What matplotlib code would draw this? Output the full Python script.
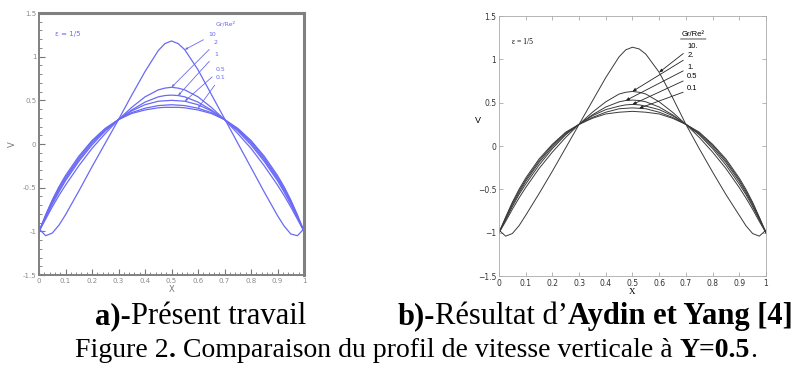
import matplotlib
matplotlib.use('Agg')
import matplotlib.pyplot as plt
from matplotlib.ticker import MultipleLocator
from matplotlib.transforms import IdentityTransform

# positions X le long de Y=0.5
x_pos = [0, 0.025, 0.05, 0.075, 0.1, 0.15, 0.2, 0.25, 0.3, 0.35, 0.4, 0.45, 0.475,
         0.5, 0.525, 0.55, 0.6, 0.65, 0.7, 0.75, 0.8, 0.85, 0.9, 0.925, 0.95, 0.975, 1]

# a) present travail
a_10 = [-0.97, -1.05, -1.02, -0.93, -0.81, -0.54, -0.26, 0.01, 0.28, 0.56, 0.83, 1.07, 1.15,
        1.18, 1.15, 1.08, 0.85, 0.57, 0.29, 0.01, -0.27, -0.55, -0.82, -0.94, -1.03, -1.05, -0.97]
a_2 = [-1.0, -0.86, -0.72, -0.59, -0.47, -0.25, -0.05, 0.12, 0.28, 0.42, 0.54, 0.62, 0.64,
       0.65, 0.64, 0.62, 0.54, 0.42, 0.28, 0.12, -0.05, -0.25, -0.47, -0.59, -0.72, -0.86, -1.0]
a_1 = [-1.0, -0.84, -0.69, -0.55, -0.42, -0.20, -0.01, 0.15, 0.28, 0.39, 0.48, 0.54, 0.555,
       0.56, 0.555, 0.54, 0.48, 0.39, 0.28, 0.15, -0.01, -0.20, -0.42, -0.55, -0.69, -0.84, -1.0]
a_05 = [-1.0, -0.83, -0.67, -0.53, -0.40, -0.18, 0.01, 0.16, 0.28, 0.38, 0.45, 0.49, 0.495,
        0.50, 0.495, 0.49, 0.45, 0.38, 0.28, 0.16, 0.01, -0.18, -0.40, -0.53, -0.67, -0.83, -1.0]
a_01 = [-1.0, -0.82, -0.65, -0.51, -0.38, -0.16, 0.03, 0.17, 0.28, 0.36, 0.41, 0.44, 0.445,
        0.45, 0.445, 0.44, 0.41, 0.36, 0.28, 0.17, 0.03, -0.16, -0.38, -0.51, -0.65, -0.82, -1.0]
a_0 = [-1.0, -0.81, -0.64, -0.49, -0.36, -0.14, 0.04, 0.18, 0.28, 0.35, 0.39, 0.415, 0.42,
       0.42, 0.42, 0.415, 0.39, 0.35, 0.28, 0.18, 0.04, -0.14, -0.36, -0.49, -0.64, -0.81, -1.0]

# b) Aydin et Yang
b_10 = [-0.97, -1.04, -1.01, -0.92, -0.80, -0.55, -0.29, -0.02, 0.25, 0.52, 0.79, 1.03, 1.11,
        1.14, 1.12, 1.06, 0.85, 0.56, 0.25, -0.03, -0.30, -0.56, -0.80, -0.92, -1.01, -1.04, -0.97]
b_2 = [-1.0, -0.87, -0.73, -0.60, -0.48, -0.26, -0.07, 0.10, 0.25, 0.39, 0.51, 0.60, 0.62,
       0.63, 0.62, 0.60, 0.51, 0.39, 0.25, 0.10, -0.07, -0.26, -0.48, -0.60, -0.73, -0.87, -1.0]
b_1 = [-1.0, -0.85, -0.70, -0.56, -0.44, -0.22, -0.03, 0.13, 0.25, 0.36, 0.45, 0.51, 0.525,
       0.53, 0.525, 0.51, 0.45, 0.36, 0.25, 0.13, -0.03, -0.22, -0.44, -0.56, -0.70, -0.85, -1.0]
b_05 = [-1.0, -0.84, -0.68, -0.54, -0.41, -0.19, -0.01, 0.14, 0.25, 0.35, 0.42, 0.46, 0.475,
        0.48, 0.475, 0.46, 0.42, 0.35, 0.25, 0.14, -0.01, -0.19, -0.41, -0.54, -0.68, -0.84, -1.0]
b_01 = [-1.0, -0.83, -0.66, -0.52, -0.39, -0.17, 0.01, 0.15, 0.25, 0.33, 0.39, 0.43, 0.435,
        0.44, 0.435, 0.43, 0.39, 0.33, 0.25, 0.15, 0.01, -0.17, -0.39, -0.52, -0.66, -0.83, -1.0]
b_0 = [-1.0, -0.82, -0.65, -0.50, -0.37, -0.15, 0.02, 0.16, 0.25, 0.32, 0.37, 0.39, 0.395,
       0.40, 0.395, 0.39, 0.37, 0.32, 0.25, 0.16, 0.02, -0.15, -0.37, -0.50, -0.65, -0.82, -1.0]

labels_a = ['10', '2', '1', '0.5', '0.1']
labels_b = ['10.', '2.', '1.', '0.5', '0.1']

fig = plt.figure(figsize=(8.03, 3.69), dpi=100)

# ---------------- a) ----------------
ax1 = fig.add_axes([0.0486, 0.2547, 0.330, 0.7100])
blue = '#6a6af4'
for v in [a_10, a_2, a_1, a_05, a_01, a_0]:
    ax1.plot(x_pos, v, color=blue, lw=0.9)
ax1.set_xlim(0, 1)
ax1.set_ylim(-1.5, 1.5)
ax1.xaxis.set_major_locator(MultipleLocator(0.1))
ax1.xaxis.set_minor_locator(MultipleLocator(0.02))
ax1.yaxis.set_major_locator(MultipleLocator(0.5))
ax1.yaxis.set_minor_locator(MultipleLocator(0.1))
ax1.set_xticks([0, .1, .2, .3, .4, .5, .6, .7, .8, .9, 1])
ax1.set_xticklabels(['0', '0.1', '0.2', '0.3', '0.4', '0.5', '0.6', '0.7', '0.8', '0.9', '1'])
ax1.set_yticks([-1.5, -1, -0.5, 0, 0.5, 1, 1.5])
ax1.set_yticklabels(['-1.5', '-1', '-0.5', '0', '0.5', '1', '1.5'])
ax1.tick_params(which='both', direction='in', colors='#777777', labelsize=5,
                labelcolor='#8a8a8a', pad=2)
ax1.tick_params(which='major', length=4, width=0.8)
ax1.tick_params(which='minor', length=2, width=0.6)
for s in ax1.spines.values():
    s.set_color('#808080')
    s.set_linewidth(1.4)
ax1.spines['top'].set_linewidth(2.2)
ax1.spines['right'].set_linewidth(2.2)
ax1.set_xlabel('X', fontsize=6, color='#777777', labelpad=1)
ax1.set_ylabel('V', fontsize=6, color='#777777', labelpad=4, rotation=90)
ax1.text(0.06, 1.26, 'ε = 1/5', fontsize=5, color=blue, va='center')
ax1.text(0.705, 1.375, 'Gr/Re²', fontsize=4.5, color=blue, ha='center', va='center')
curves_a = [a_10, a_2, a_1, a_05, a_01]
idx_a = [15, 13, 14, 15, 16]
txt_a = [(0.64, 1.25), (0.66, 1.16), (0.66, 1.03), (0.665, 0.85), (0.665, 0.76)]
for lab, v, i, (tx, ty) in zip(labels_a, curves_a, idx_a, txt_a):
    ax1.annotate(lab, xy=(x_pos[i], v[i]), xytext=(tx, ty), fontsize=4.5, color=blue,
                 va='center', ha='left',
                 arrowprops=dict(arrowstyle='-|>,head_length=0.3,head_width=0.12',
                                 color=blue, lw=0.6, shrinkA=2, shrinkB=0))

# ---------------- b) ----------------
ax2 = fig.add_axes([0.6214, 0.2520, 0.3325, 0.7046])
for v in [b_10, b_2, b_1, b_05, b_01, b_0]:
    ax2.plot(x_pos, v, color='#3a3a3a', lw=0.7)
ax2.set_xlim(0, 1)
ax2.set_ylim(-1.5, 1.5)
ax2.set_xticks([0, .1, .2, .3, .4, .5, .6, .7, .8, .9, 1])
ax2.set_xticklabels(['0', '0.1', '0.2', '0.3', '0.4', '0.5', '0.6', '0.7', '0.8', '0.9', '1'])
ax2.set_yticks([-1.5, -1, -0.5, 0, 0.5, 1, 1.5])
ax2.set_yticklabels(['\u22121.5', '\u22121', '\u22120.5', '0', '0.5', '1', '1.5'])
ax2.tick_params(direction='in', top=True, right=True, length=3, width=0.5,
                colors='#999999', labelcolor='#333333', labelsize=5.5, pad=2)
for s in ax2.spines.values():
    s.set_color('#aaaaaa')
    s.set_linewidth(0.6)
ax2.set_xlabel('X', fontsize=6.5, family='Liberation Serif', labelpad=0)
ax2.set_ylabel('V', fontsize=6.5, family='Liberation Sans', rotation=0, labelpad=8)
ax2.yaxis.set_label_coords(-0.08, 0.58)
ax2.text(0.05, 1.2, 'ε = 1/5', fontsize=5.5, family='Liberation Serif', va='center')
ax2.text(0.727, 1.29, 'Gr/Re²', fontsize=5.5, family='Liberation Sans', ha='center',
         va='center')
ax2.annotate('', xy=(0.68, 1.235), xytext=(0.775, 1.235),
             arrowprops=dict(arrowstyle='-', lw=0.6, color='#333333', shrinkA=0, shrinkB=0))
curves_b = [b_10, b_2, b_1, b_05, b_01]
idx_b = [16, 13, 12, 13, 14]
txt_b = [1.15, 1.04, 0.91, 0.80, 0.66]
for lab, v, i, ty in zip(labels_b, curves_b, idx_b, txt_b):
    ax2.annotate(lab, xy=(x_pos[i], v[i]), xytext=(0.705, ty), fontsize=5.5,
                 family='Liberation Sans', va='center', ha='left',
                 arrowprops=dict(arrowstyle='-|>,head_length=0.35,head_width=0.15',
                                 color='#222222', lw=0.6, shrinkA=1, shrinkB=0))

# ---------------- legendes ----------------
renderer = fig.canvas.get_renderer()


def width_of(s, bold, fs):
    t = fig.text(0, 0, s, transform=IdentityTransform(), fontsize=fs,
                 family='Liberation Serif', fontweight='bold' if bold else 'normal')
    w = t.get_window_extent(renderer).width
    t.remove()
    return w


def rich_line(parts, x, y, fs, align='left'):
    space = width_of('x x', False, fs) - width_of('xx', False, fs)
    objs = []
    cx = x
    for s, bold, gap in parts:
        if gap:
            cx += space
        t = fig.text(cx, y, s, transform=IdentityTransform(), fontsize=fs,
                     family='Liberation Serif', fontweight='bold' if bold else 'normal',
                     va='baseline')
        cx += t.get_window_extent(renderer).width
        objs.append(t)
    shift = {'left': 0, 'center': (cx - x) / 2, 'right': cx - x}[align]
    for t in objs:
        t.set_x(t.get_position()[0] - shift)


rich_line([('a)-', True, False), ('Présent travail', False, False)], 306, 45, 22,
          align='right')
rich_line([('b)-', True, False), ('Résultat d’', False, False),
           ('Aydin et Yang [4]', True, False)], 398, 45, 22)
rich_line([('Figure 2', False, False), ('.', True, False),
           ('Comparaison du profil de vitesse verticale à', False, True),
           ('Y=0.5', True, True), ('.', False, False)], 416, 12, 20, align='center')

fig.savefig('out.png', dpi=100)
